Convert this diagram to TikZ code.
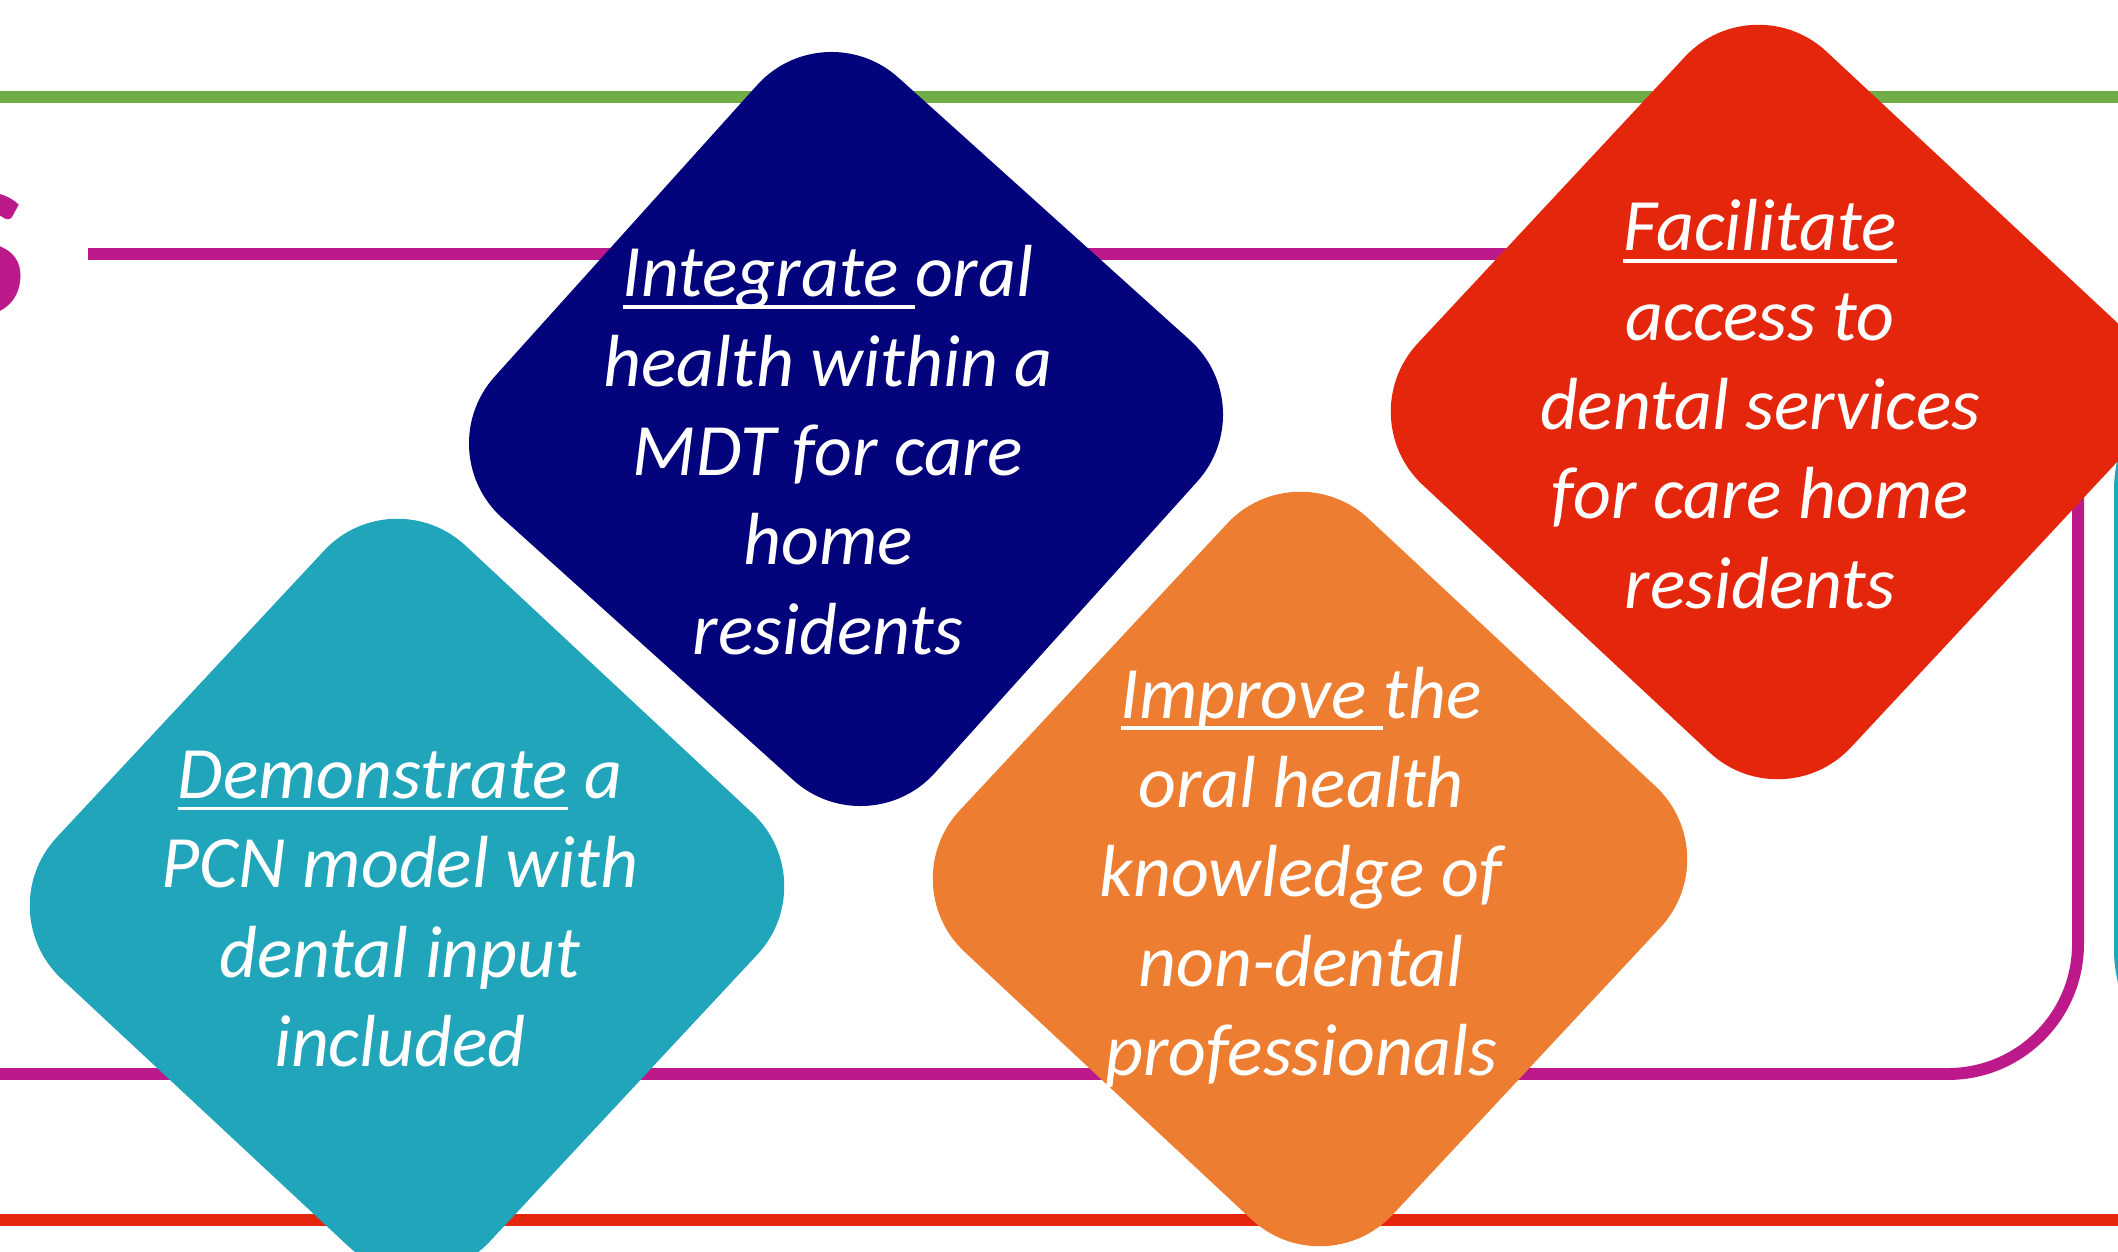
\documentclass[tikz,border=0pt]{standalone}
\usepackage{fontspec}
\setmainfont{Carlito}
\usepackage{tikz}
\definecolor{leafgreen}{HTML}{70AD47}
\definecolor{plum}{HTML}{BC1A8A}
\definecolor{navyblue}{HTML}{03037B}
\definecolor{tealblue}{HTML}{21A5BA}
\definecolor{carrot}{HTML}{ED7D31}
\definecolor{brickred}{HTML}{E4260C}
\newsavebox{\kwbox}
\newcommand{\kword}[1]{\sbox{\kwbox}{#1}\rlap{\rule[-3.4pt]{\wd\kwbox}{1pt}}\usebox{\kwbox}}

\begin{document}
\begin{tikzpicture}[x=0.01cm, y=-0.01cm]
 	\tikzstyle{tile}=[rectangle, rounded corners=1cm, minimum size=5.92cm, inner sep=0pt]
 	\tikzstyle{caption}=[text=white, align=center, font=\itshape\fontsize{21}{25.4}\selectfont]
 	\tikzstyle{band}=[line width=3.4pt]
 	\useasboundingbox (0,0) rectangle (2118,1252);
 	\clip (0,0) rectangle (2118,1252);
 	\draw[band, draw=leafgreen] (-20,97) -- (2140,97);
 	\draw[band, draw=plum, rounded corners=1.3cm] (88,254) -- (2078,254) -- (2078,1074) -- (-100,1074);
 	\draw[band, draw=tealblue, rounded corners=1.3cm] (2400,360) -- (2120,360) -- (2120,1080) -- (2400,1080);
 	\draw[band, draw=brickred] (-20,1220) -- (2140,1220);
 	\node[text=plum, font=\bfseries\fontsize{53}{60}\selectfont, anchor=east, inner sep=0pt] (title) at (27,254) {S};
 	\node[tile, fill=navyblue, rotate=48] (integrate) at (846,429) {};
 	\node[tile, fill=tealblue, rotate=47] (demonstrate) at (407,896) {};
 	\node[tile, fill=carrot, rotate=47] (improve) at (1310,869) {};
 	\node[tile, fill=brickred, rotate=47] (facilitate) at (1768,402) {};
 	\node[caption] (integratetext) at (828,450) {\kword{Integrate\ }oral\\health within a\\MDT for care\\home\\residents};
 	\node[caption] (demonstratetext) at (400,909) {\kword{Demonstrate} a\\PCN model with\\dental input\\included};
 	\node[caption] (improvetext) at (1301,877) {\kword{Improve\ }the\\oral health\\knowledge of\\non-dental\\professionals};
 	\node[caption] (facilitatetext) at (1760,404) {\kword{Facilitate}\\access to\\dental services\\for care home\\residents};
\end{tikzpicture}
\end{document}
